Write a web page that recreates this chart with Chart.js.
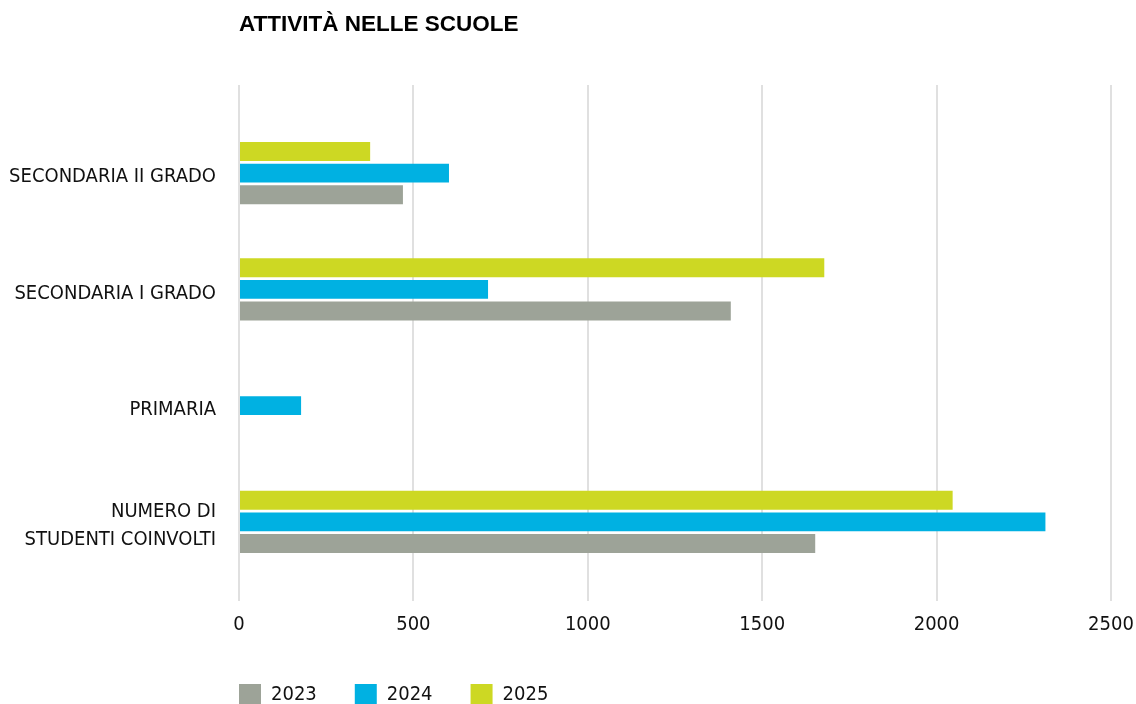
<!DOCTYPE html>
<html>
<head>
<meta charset="utf-8">
<title>Attività nelle scuole</title>
<script src="https://cdn.jsdelivr.net/npm/chart.js@4.4.1/dist/chart.umd.min.js"></script>
<style>
  html, body { margin: 0; padding: 0; background: #ffffff; }
  #wrap { width: 1136px; height: 704px; position: relative; }
</style>
</head>
<body>
<div id="wrap"><canvas id="chart"></canvas></div>
<script>
// School categories, top to bottom
const categories = [
  'SECONDARIA II GRADO',
  'SECONDARIA I GRADO',
  'PRIMARIA',
  ['NUMERO DI', 'STUDENTI COINVOLTI']
];

// Values per year (null = no activity)
const values2023 = [470, 1410, null, 1652];
const values2024 = [602, 714, 178, 2312];
const values2025 = [376, 1678, null, 2046];

// Value axis ticks
const xTicks = [0, 500, 1000, 1500, 2000, 2500];

const yearLabels = ['2023', '2024', '2025'];
const colors = { '2023': '#9DA398', '2024': '#00B1E2', '2025': '#CDD823' };

const FONT = "'DejaVu Sans Condensed', 'Liberation Sans', sans-serif";
const GRID = '#e0e0e0';
const LEGEND_GAP = 38;

// Shift the legend so its first swatch lines up with the plot's left edge
const legendAlign = {
  id: 'legendAlign',
  afterLayout(chart) {
    const lg = chart.legend;
    if (lg) {
      lg.left -= LEGEND_GAP;
      lg.right -= LEGEND_GAP;
      lg.top -= 3;
      lg.bottom -= 3;
    }
  }
};

new Chart(document.getElementById('chart'), {
  type: 'bar',
  data: {
    labels: categories,
    datasets: [
      { label: yearLabels[2], data: values2025, backgroundColor: colors['2025'] },
      { label: yearLabels[1], data: values2024, backgroundColor: colors['2024'] },
      { label: yearLabels[0], data: values2023, backgroundColor: colors['2023'] }
    ]
  },
  options: {
    indexAxis: 'y',
    responsive: true,
    maintainAspectRatio: false,
    animation: false,
    categoryPercentage: 0.556,
    barPercentage: 0.88,
    layout: { padding: { left: 0, right: 25, top: 0, bottom: -15 } },
    scales: {
      x: {
        position: 'bottom',
        min: xTicks[0],
        max: xTicks[xTicks.length - 1],
        afterBuildTicks(scale) { scale.ticks = xTicks.map(v => ({ value: v })); },
        afterFit(scale) { scale.paddingRight = 0; scale.paddingLeft = 0; },
        grid: { color: GRID, lineWidth: 2, tickLength: 21, drawTicks: true },
        border: { display: false },
        ticks: {
          padding: 12,
          color: '#111111',
          font: { family: FONT, size: 20 },
          maxRotation: 0,
          callback: v => String(v)
        }
      },
      xTop: {
        position: 'top',
        axis: 'x',
        type: 'linear',
        min: xTicks[0],
        max: xTicks[xTicks.length - 1],
        afterBuildTicks(scale) { scale.ticks = xTicks.map(v => ({ value: v })); },
        afterFit(scale) { scale.paddingRight = 0; scale.paddingLeft = 0; },
        grid: { color: GRID, lineWidth: 2, tickLength: 30, drawTicks: true, drawOnChartArea: false },
        border: { display: false },
        ticks: { display: false }
      },
      y: {
        grid: { display: false, drawTicks: false },
        border: { display: false },
        afterFit(scale) { scale.width = 239; },
        ticks: {
          padding: 23,
          labelOffset: 4,
          color: '#111111',
          font: { family: FONT, size: 20, lineHeight: 1.4 }
        }
      }
    },
    plugins: {
      title: {
        display: true,
        text: 'ATTIVITÀ NELLE SCUOLE',
        align: 'start',
        fullSize: false,
        color: '#000000',
        font: { family: "'Liberation Sans', sans-serif", size: 22.5, weight: 'bold', lineHeight: 1.2 },
        padding: { top: 11, bottom: 47 }
      },
      legend: {
        position: 'bottom',
        align: 'start',
        fullSize: false,
        reverse: true,
        labels: {
          boxWidth: 22,
          boxHeight: 22,
          padding: LEGEND_GAP,
          color: '#111111',
          font: { family: FONT, size: 20 }
        }
      },
      tooltip: { enabled: false }
    }
  },
  plugins: [legendAlign]
});
</script>
</body>
</html>
